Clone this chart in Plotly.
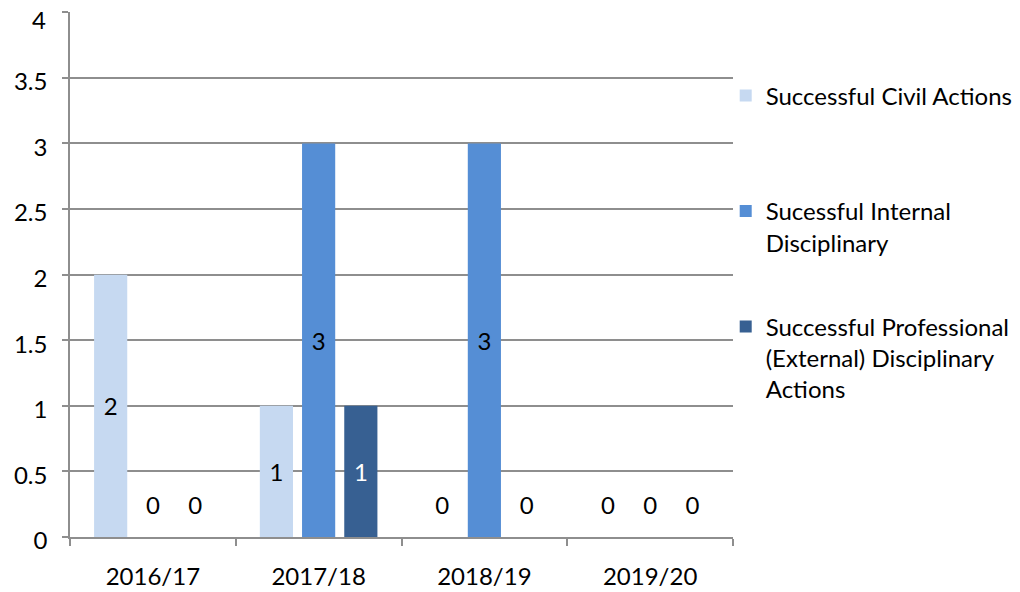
import plotly.graph_objects as go

categories = ["2016/17", "2017/18", "2018/19", "2019/20"]
civil = [2, 1, 0, 0]
internal = [0, 3, 3, 0]
professional = [0, 1, 0, 0]
series_names = [
    "Successful Civil Actions",
    "Sucessful Internal<br>Disciplinary",
    "Successful Professional<br>(External) Disciplinary<br>Actions",
]
y_ticks = [0, 0.5, 1, 1.5, 2, 2.5, 3, 3.5, 4]
y_tick_text = ["0", "0.5", "1", "1.5", "2", "2.5", "3", "3.5", "4"]

colors = ["#C6D9F1", "#558ED5", "#376092"]
label_colors = ["#000000", "#000000", "#FFFFFF"]
FONT = "Lato, Carlito, Calibri, sans-serif"
FS = 24
GRID = "#8E8E8E"
BARGAP = 0.236
ZERO_LABEL_Y = 0.22

fig = go.Figure()
all_series = [civil, internal, professional]
legends = ["legend", "legend2", "legend3"]
for i, (vals, name) in enumerate(zip(all_series, series_names)):
    fig.add_trace(go.Bar(
        x=categories, y=vals, name=name,
        marker=dict(color=colors[i], line=dict(width=0)),
        text=[str(v) if v != 0 else "" for v in vals],
        textposition="inside", insidetextanchor="middle", textangle=0,
        constraintext="none",
        textfont=dict(family=FONT, size=FS, color=label_colors[i]),
        offsetgroup=str(i), legend=legends[i], hoverinfo="skip",
    ))
for i, vals in enumerate(all_series):
    fig.add_trace(go.Scatter(
        x=categories, y=[ZERO_LABEL_Y] * len(vals), mode="text",
        text=["0" if v == 0 else "" for v in vals],
        textposition="middle center",
        textfont=dict(family=FONT, size=FS, color="#000000"),
        offsetgroup=str(i), orientation="v", showlegend=False,
        cliponaxis=False, hoverinfo="skip",
    ))

leg_common = dict(xanchor="left", yanchor="top", valign="top",
                  bgcolor="rgba(0,0,0,0)", borderwidth=0,
                  font=dict(family=FONT, size=FS, color="#000000"))

# the top tick label sits a little lower (kept inside the chart), as in the source
tick_text_shown = y_tick_text[:-1] + [""]
fig.add_annotation(
    xref="paper", yref="y", x=0, y=y_ticks[-1], text=y_tick_text[-1],
    showarrow=False, xanchor="right", yanchor="middle", xshift=-22, yshift=-7,
    font=dict(family=FONT, size=FS, color="#000000"),
)

fig.update_layout(
    template="none",
    width=1012, height=584,
    margin=dict(l=62, r=287, t=4, b=55, autoexpand=False),
    paper_bgcolor="white", plot_bgcolor="white",
    barmode="group", bargap=BARGAP, bargroupgap=0.214,
    scattermode="group", scattergap=BARGAP,
    font=dict(family=FONT, size=FS, color="#000000"),
    legend=dict(x=0.989, y=0.883, **leg_common),
    legend2=dict(x=0.989, y=0.663, **leg_common),
    legend3=dict(x=0.989, y=0.443, **leg_common),
    xaxis=dict(
        type="category", showgrid=False, showline=True, linecolor=GRID, linewidth=1.5,
        ticks="outside", tickson="boundaries", ticklen=7, tickcolor=GRID, tickwidth=1.5,
        ticklabelstandoff=17, automargin=False,
        tickfont=dict(family=FONT, size=FS, color="#000000"),
    ),
    yaxis=dict(
        range=[0, 4.002], tickvals=y_ticks, ticktext=tick_text_shown,
        showgrid=True, gridcolor=GRID, gridwidth=1.5,
        showline=True, linecolor=GRID, linewidth=1.5, zeroline=False,
        ticks="outside", ticklen=6, tickcolor=GRID, tickwidth=1.5,
        ticklabelstandoff=10, ticklabelshift=4, automargin=False, ticklabeloverflow="allow",
        tickfont=dict(family=FONT, size=FS, color="#000000"),
    ),
)

fig.write_html("out.html")
